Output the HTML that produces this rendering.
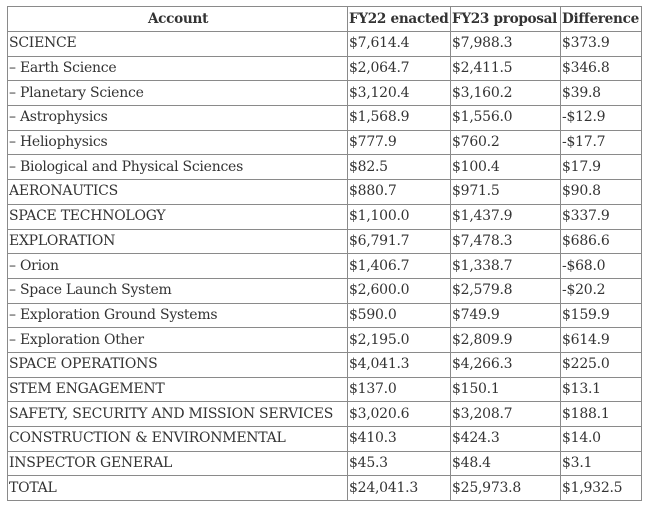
<!DOCTYPE html>
<html><head><meta charset="utf-8"><style>
html,body{margin:0;padding:0;background:#fff;width:650px;height:507px;overflow:hidden}
table{position:absolute;left:7px;top:6px;border-collapse:collapse;table-layout:fixed;width:634px;font-family:"DejaVu Serif","Liberation Serif",serif;font-size:14px;color:#333;letter-spacing:-0.25px}
td,th{border:1px solid #8a8a8a;padding:0 0 0 1px;height:23.7px;line-height:23px;white-space:nowrap;overflow:hidden;text-align:left;font-weight:normal}
th{font-weight:bold;height:24px;color:#333;font-size:13.6px;letter-spacing:-0.3px}
th.c{text-align:center}
</style></head><body>
<table>
<colgroup><col style="width:340px"><col style="width:103px"><col style="width:110px"><col style="width:81px"></colgroup>
<tr><th class="c">Account</th><th>FY22 enacted</th><th>FY23 proposal</th><th>Difference</th></tr>
<tr><td>SCIENCE</td><td>$7,614.4</td><td>$7,988.3</td><td>$373.9</td></tr>
<tr><td>– Earth Science</td><td>$2,064.7</td><td>$2,411.5</td><td>$346.8</td></tr>
<tr><td>– Planetary Science</td><td>$3,120.4</td><td>$3,160.2</td><td>$39.8</td></tr>
<tr><td>– Astrophysics</td><td>$1,568.9</td><td>$1,556.0</td><td>-$12.9</td></tr>
<tr><td>– Heliophysics</td><td>$777.9</td><td>$760.2</td><td>-$17.7</td></tr>
<tr><td>– Biological and Physical Sciences</td><td>$82.5</td><td>$100.4</td><td>$17.9</td></tr>
<tr><td>AERONAUTICS</td><td>$880.7</td><td>$971.5</td><td>$90.8</td></tr>
<tr><td>SPACE TECHNOLOGY</td><td>$1,100.0</td><td>$1,437.9</td><td>$337.9</td></tr>
<tr><td>EXPLORATION</td><td>$6,791.7</td><td>$7,478.3</td><td>$686.6</td></tr>
<tr><td>– Orion</td><td>$1,406.7</td><td>$1,338.7</td><td>-$68.0</td></tr>
<tr><td>– Space Launch System</td><td>$2,600.0</td><td>$2,579.8</td><td>-$20.2</td></tr>
<tr><td>– Exploration Ground Systems</td><td>$590.0</td><td>$749.9</td><td>$159.9</td></tr>
<tr><td>– Exploration Other</td><td>$2,195.0</td><td>$2,809.9</td><td>$614.9</td></tr>
<tr><td>SPACE OPERATIONS</td><td>$4,041.3</td><td>$4,266.3</td><td>$225.0</td></tr>
<tr><td>STEM ENGAGEMENT</td><td>$137.0</td><td>$150.1</td><td>$13.1</td></tr>
<tr><td>SAFETY, SECURITY AND MISSION SERVICES</td><td>$3,020.6</td><td>$3,208.7</td><td>$188.1</td></tr>
<tr><td>CONSTRUCTION &amp; ENVIRONMENTAL</td><td>$410.3</td><td>$424.3</td><td>$14.0</td></tr>
<tr><td>INSPECTOR GENERAL</td><td>$45.3</td><td>$48.4</td><td>$3.1</td></tr>
<tr><td>TOTAL</td><td>$24,041.3</td><td>$25,973.8</td><td>$1,932.5</td></tr>
</table>
</body></html>
